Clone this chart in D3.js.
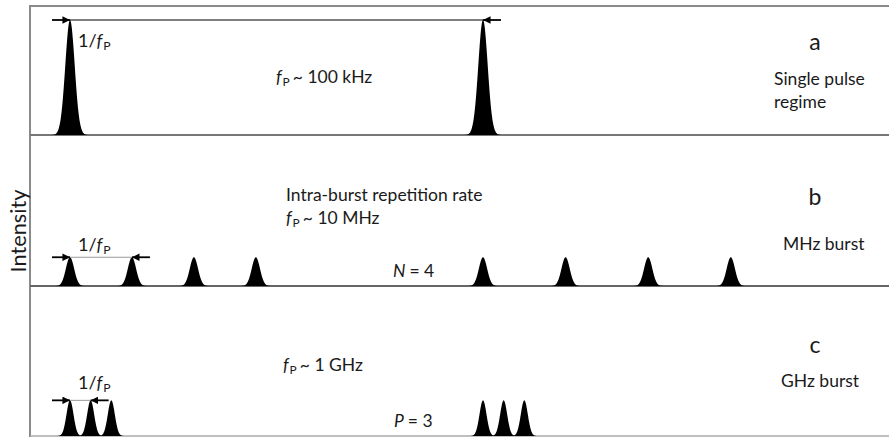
<!DOCTYPE html>
<html><head><meta charset="utf-8">
<script src="https://cdn.jsdelivr.net/npm/d3@7/dist/d3.min.js"></script>
<style>body{margin:0;background:#fff}svg{display:block}text{font-family:Lato,"Open Sans",sans-serif;fill:#1a1a1a}</style>
</head><body><svg id="c" width="889" height="437"></svg>
<script>
// ---- data ----
const panelIds = ["a", "b", "c"];
const panelTitles = [["Single pulse", "regime"], ["MHz burst"], ["GHz burst"]];
const pulseTimesA = [0, 10];
const pulseTimesB = [0, 1.5, 3, 4.5, 10, 12, 14, 16];
const pulseTimesC = [0, 0.5, 1, 10, 10.5, 11];
const pulseAmps = [1, 0.25, 0.31];
const pulseWidths = [0.114, 0.1, 0.085];
const periodMarks = [[0, 10], [0, 1.5], [0, 0.5]];
const rateLabels = ["~ 100 kHz", "~ 10 MHz", "~ 1 GHz"];
const countLabels = [null, ["N", "= 4"], ["P", "= 3"]];

const svg = d3.select("#c");
const W = 889, H = 437;
const FS = 17.5;
const x = d3.scaleLinear().domain([0, 10]).range([70, 483]);
const bands = [[6, 135], [135, 286], [286, 436]];
const ys = bands.map(b => d3.scaleLinear().domain([0, 1]).range([b[1], b[1] - 115]));
const pulseSets = [pulseTimesA, pulseTimesB, pulseTimesC];

const defs = svg.append("defs");
defs.append("marker").attr("id", "ah").attr("viewBox", "0 0 10 10").attr("refX", 10).attr("refY", 5)
  .attr("markerWidth", 4.2).attr("markerHeight", 4.2).attr("orient", "auto-start-reverse")
  .append("path").attr("d", "M0,0 L10,5 L0,10 z").attr("fill", "#000");

// frame
svg.append("line").attr("x1", 30).attr("x2", W).attr("y1", 6).attr("y2", 6).attr("stroke", "#8a8a8a").attr("stroke-width", 2);
svg.append("line").attr("x1", 30).attr("x2", 30).attr("y1", 5).attr("y2", H).attr("stroke", "#8a8a8a").attr("stroke-width", 2);
svg.append("line").attr("x1", 30).attr("x2", W).attr("y1", 135).attr("y2", 135).attr("stroke", "#777").attr("stroke-width", 1.8);
svg.append("line").attr("x1", 30).attr("x2", W).attr("y1", 286).attr("y2", 286).attr("stroke", "#666").attr("stroke-width", 1.8);
svg.append("line").attr("x1", 30).attr("x2", W).attr("y1", 436).attr("y2", 436).attr("stroke", "#aaa").attr("stroke-width", 1.5);

svg.append("text").attr("transform", "translate(17,231) rotate(-90)").attr("text-anchor", "middle")
  .attr("dominant-baseline", "central").style("font-size", "21px")
  .attr("textLength", 83).attr("lengthAdjust", "spacingAndGlyphs").text("Intensity");

function fpText(sel, x0, y0, prefix, suffix, size) {
  const t = sel.append("text").attr("x", x0).attr("y", y0).style("font-size", size + "px");
  if (prefix) t.append("tspan").text(prefix);
  t.append("tspan").style("font-style", "italic").text("f");
  t.append("tspan").attr("dy", 3).style("font-size", (size * 0.68) + "px").attr("dx", 1).text("P");
  if (suffix) t.append("tspan").attr("dy", -3).attr("dx", 3).text(suffix);
  return t;
}

pulseSets.forEach((times, i) => {
  const g = svg.append("g");
  const y = ys[i], s = pulseWidths[i], A = pulseAmps[i];
  const area = d3.area().x(d => x(d[0])).y0(bands[i][1]).y1(d => y(d[1]));
  times.forEach(t0 => {
    const pts = d3.range(-4 * s, 4 * s + 1e-9, s / 20).map(dt => [t0 + dt, A * Math.exp(-dt * dt / (2 * s * s))]);
    g.append("path").attr("d", area(pts)).attr("fill", "#000");
  });
  // period marker
  const [p0, p1] = periodMarks[i];
  const yl = y(A);
  g.append("line").attr("x1", x(p0)).attr("x2", x(p1)).attr("y1", yl).attr("y2", yl)
    .attr("stroke", i === 0 ? "#000" : "#999").attr("stroke-width", 1);
  g.append("line").attr("x1", x(p0) - 18).attr("x2", x(p0)).attr("y1", yl).attr("y2", yl)
    .attr("stroke", "#000").attr("stroke-width", 1.8).attr("marker-end", "url(#ah)");
  g.append("line").attr("x1", x(p1) + 18).attr("x2", x(p1)).attr("y1", yl).attr("y2", yl)
    .attr("stroke", "#000").attr("stroke-width", 1.8).attr("marker-end", "url(#ah)");
  // 1/fP label
  const ly = [47, 251, 389][i];
  fpText(g, 78, ly, "1/", null, 18);
  // panel id + title
  const cy = [41, 196, 344][i];
  g.append("text").attr("x", 815).attr("y", cy).attr("text-anchor", "middle").attr("dominant-baseline", "central")
    .style("font-size", "23px").text(panelIds[i]);
  panelTitles[i].forEach((tt, k) => {
    g.append("text").attr("x", 774 + (i === 1 ? 9 : i === 2 ? 7 : 0)).attr("y", [78, 243, 380][i] + k * 23)
      .attr("dominant-baseline", "central").style("font-size", FS + "px").text(tt);
  });
  // rate label
  fpText(g, [276, 286, 283][i], [83, 224, 371][i], null, rateLabels[i], FS);
  // count label
  if (countLabels[i]) {
    const t = g.append("text").attr("x", [0, 393, 394][i]).attr("y", [0, 277, 427][i]).style("font-size", FS + "px");
    t.append("tspan").style("font-style", "italic").text(countLabels[i][0]);
    t.append("tspan").attr("dx", 4).text(countLabels[i][1]);
  }
});
svg.append("text").attr("x", 286).attr("y", 201).style("font-size", FS + "px").text("Intra-burst repetition rate");
</script></body></html>
